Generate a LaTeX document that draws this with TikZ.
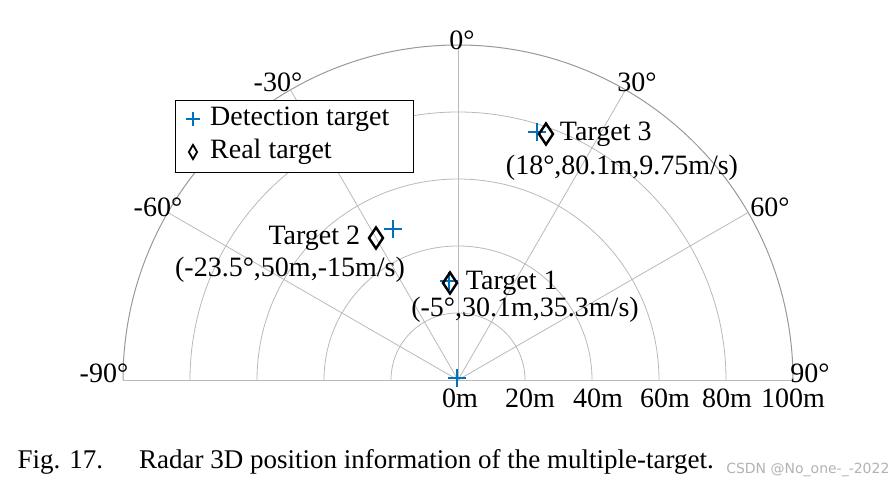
\documentclass[tikz,border=0pt]{standalone}
\usepackage{fontspec}
\setmainfont{Liberation Serif}
\setsansfont{DejaVu Sans}
\usetikzlibrary{positioning,shapes.geometric}
\definecolor{detblue}{RGB}{0,114,189}
\tikzset{
  gridline/.style={gray!55, line width=0.8pt},
  lbl/.style={font=\fontsize{28}{30}\selectfont, inner sep=1pt},
  detmark/.style={detblue, line width=2.6pt},
  realmark/.style={draw=black, line width=2.4pt, diamond, minimum width=15pt, minimum height=22pt, inner sep=0pt},
}
\newcommand{\detplus}[2]{\draw[detmark] (#1-9,#2) -- (#1+9,#2) (#1,#2-9) -- (#1,#2+9);}
\begin{document}
\begin{tikzpicture}[x=1pt,y=-1pt]
  \useasboundingbox (0,0) rectangle (896,487);
  \coordinate (c) at (458,380);
  % polar grid
  \foreach \r in {67,134,201,268}
    \draw[gridline] ([xshift=-\r pt]c) arc[start angle=180, end angle=0, radius=\r pt];
  \draw[gray!80, line width=1pt] ([xshift=-335pt]c) arc[start angle=180, end angle=0, radius=335pt];
  \foreach \a in {0,30,60,90,120,150,180}
    \draw[gridline] (c) -- ++(\a:335pt);
  % angle labels
  \node[lbl] (a0) at (462,40) {0°};
  \node[lbl] (ap30) at (637,82) {30°};
  \node[lbl] (ap60) at (770,207) {60°};
  \node[lbl] (ap90) at (810,373) {90°};
  \node[lbl] (am30) at (278,82) {-30°};
  \node[lbl] (am60) at (158,207) {-60°};
  \node[lbl] (am90) at (104,373) {-90°};
  % range labels
  \foreach \m/\x in {0/460,20/530,40/598,60/665,80/727,100/793}
    \node[lbl] (r\m) at (\x,398) {\m m};
  % targets
  \detplus{449}{281}
  \node[realmark] (t1) at (450,283) {};
  \node[lbl, right=6pt of t1] (t1name) {Target 1};
  \node[lbl] (t1info) at (525,310) {(-5°,30.1m,35.3m/s)};
  \detplus{393}{229}
  \node[realmark] (t2) at (376,238) {};
  \node[lbl, left=6pt of t2] (t2name) {Target 2};
  \node[lbl] (t2info) at (290,270) {(-23.5°,50m,-15m/s)};
  \detplus{537}{132}
  \node[realmark] (t3) at (546,134) {};
  \node[lbl, right=4pt of t3] (t3name) {Target 3};
  \node[lbl] (t3info) at (622,168) {(18°,80.1m,9.75m/s)};
  \detplus{457}{378}
  % legend
  \draw[fill=white, line width=1pt] (175,100) rectangle (413,172);
  \draw[detblue, line width=2pt] (186,119) -- (200,119) (193,112) -- (193,126);
  \node[lbl, anchor=west] (legdet) at (209,119) {Detection target};
  \node[draw=black, line width=1.8pt, diamond, minimum width=9pt, minimum height=15pt, inner sep=0pt] (legreal) at (193,152) {};
  \node[lbl, anchor=west] (legrealtxt) at (209,152) {Real target};
  % caption
  \node[font=\fontsize{27}{29}\selectfont, anchor=west] (cap) at (14,462) {Fig. 17.\hspace{36pt}Radar 3D position information of the multiple-target.};
  \node[font=\sffamily\fontsize{14}{16}\selectfont, text=gray!60, anchor=east] (wm) at (893,470) {CSDN @No\_one-\_-2022};
\end{tikzpicture}
\end{document}
